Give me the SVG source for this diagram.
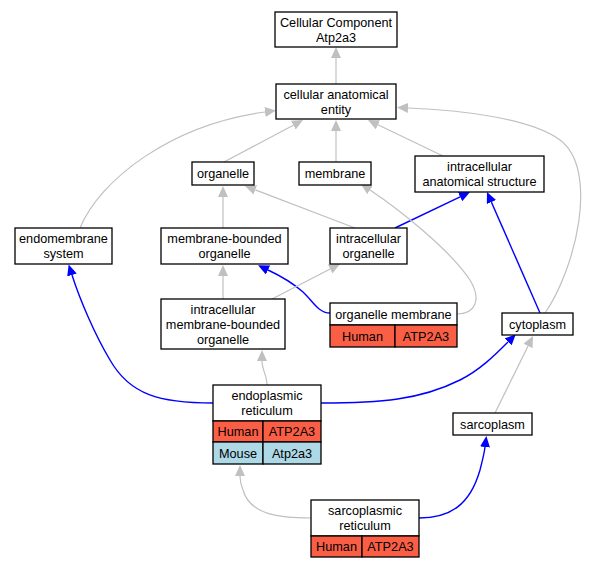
<svg xmlns="http://www.w3.org/2000/svg" width="589" height="568" viewBox="0 0 589 568">
<style>
.b{fill:#ffffff;stroke:#000000;stroke-width:1.3}
.h{fill:#fa5e45;stroke:#000000;stroke-width:1.3}
.m{fill:#add8e6;stroke:#000000;stroke-width:1.3}
text{font-family:"Liberation Sans",Arial,sans-serif;font-size:12.7px;fill:#000000;text-anchor:middle}
.g{fill:none;stroke:#c0c0c0;stroke-width:1.2}
.u{fill:none;stroke:#0000ff;stroke-width:1.4}
.g{marker-end:url(#ag)}
.u{marker-end:url(#au)}
</style>
<defs>
<marker id="ag" markerUnits="userSpaceOnUse" markerWidth="12" markerHeight="11" refX="0" refY="5" orient="auto"><path d="M0,0 L11,5 L0,10 z" fill="#c0c0c0"/></marker>
<marker id="au" markerUnits="userSpaceOnUse" markerWidth="12" markerHeight="11" refX="0" refY="5" orient="auto"><path d="M0,0 L11,5 L0,10 z" fill="#0000ff"/></marker>
</defs>
<rect width="589" height="568" fill="#ffffff"/>
<g id="edges">
<path class="g" d="M336,84 L336,58"/>
<path class="g" d="M224,162 L293.3,125.2"/>
<path class="g" d="M336,162 L336,131"/>
<path class="g" d="M443,156 L377.9,124.8"/>
<path class="g" d="M80,228 C100,180 170,125 265,112"/>
<path class="g" d="M545,313 C575,270 600,170 560,140 C530,118 460,110 408,108"/>
<path class="g" d="M223,228 L223,197"/>
<path class="g" d="M355,228 L255.3,189.9"/>
<path class="u" d="M395,228 L460.1,196.8"/>
<path class="g" d="M457,314 C475,314 482,300 470,280 C450,250 400,210 370,190"/>
<path class="u" d="M330,313 C318,313 312,300 303,292 C295,285 283,277 268,270"/>
<path class="g" d="M272,299 L330.2,269"/>
<path class="g" d="M223,299 L223,276"/>
<path class="g" d="M267,385 C267,375 262,370 262,361"/>
<path class="u" d="M213,403 C160,403 130,395 110,360 C95,335 80,300 72,275"/>
<path class="u" d="M321,403 C380,403 420,400 460,380 C480,370 495,355 508,342"/>
<path class="u" d="M540,313 L491.4,202.1"/>
<path class="g" d="M495,413 L528.1,345.9"/>
<path class="g" d="M311,518 C280,518 250,515 243,490 C241,485 240,480 240,476"/>
<path class="u" d="M419,518 C450,518 470,505 480,470 C482,462 484,455 485,447"/>
</g>
<g id="cc"><rect class="b" x="275" y="12" width="122" height="35"/><text x="336" y="26.5">Cellular Component</text><text x="336" y="41.5">Atp2a3</text></g>
<g id="cae"><rect class="b" x="276" y="84" width="120" height="35"/><text x="336" y="98.5">cellular anatomical</text><text x="336" y="113.5">entity</text></g>
<g id="organelle"><rect class="b" x="192" y="162" width="62" height="23"/><text x="223" y="178">organelle</text></g>
<g id="membrane"><rect class="b" x="299" y="162" width="72" height="23"/><text x="335" y="178">membrane</text></g>
<g id="ias"><rect class="b" x="415" y="156" width="129" height="36"/><text x="479.5" y="171">intracellular</text><text x="479.5" y="186">anatomical structure</text></g>
<g id="endomembrane"><rect class="b" x="15" y="228" width="97" height="36"/><text x="63.5" y="243">endomembrane</text><text x="63.5" y="258">system</text></g>
<g id="mbo"><rect class="b" x="161" y="228" width="127" height="36"/><text x="224.5" y="243">membrane-bounded</text><text x="224.5" y="258">organelle</text></g>
<g id="io"><rect class="b" x="330" y="228" width="77" height="36"/><text x="368.5" y="243">intracellular</text><text x="368.5" y="258">organelle</text></g>
<g id="imbo"><rect class="b" x="161" y="299" width="124" height="50"/><text x="223" y="314">intracellular</text><text x="223" y="329">membrane-bounded</text><text x="223" y="344">organelle</text></g>
<g id="om"><rect class="b" x="330" y="303" width="127" height="22"/><text x="393.5" y="318.5">organelle membrane</text><rect class="h" x="330" y="325" width="65" height="22"/><text x="362.5" y="340.5">Human</text><rect class="h" x="395" y="325" width="62" height="22"/><text x="426" y="340.5">ATP2A3</text></g>
<g id="cytoplasm"><rect class="b" x="502" y="313" width="71" height="22"/><text x="537.5" y="328.5">cytoplasm</text></g>
<g id="er"><rect class="b" x="213" y="385" width="108" height="36"/><text x="267" y="400">endoplasmic</text><text x="267" y="415">reticulum</text><rect class="h" x="213" y="421" width="50" height="21"/><text x="238" y="436">Human</text><rect class="h" x="263" y="421" width="58" height="21"/><text x="292" y="436">ATP2A3</text><rect class="m" x="213" y="442" width="50" height="22"/><text x="238" y="457.5">Mouse</text><rect class="m" x="263" y="442" width="58" height="22"/><text x="292" y="457.5">Atp2a3</text></g>
<g id="sarcoplasm"><rect class="b" x="453" y="413" width="79" height="22"/><text x="492.5" y="428.5">sarcoplasm</text></g>
<g id="sr"><rect class="b" x="311" y="500" width="108" height="36"/><text x="365" y="514.5">sarcoplasmic</text><text x="365" y="529.5">reticulum</text><rect class="h" x="311" y="536" width="51" height="21"/><text x="336.5" y="551">Human</text><rect class="h" x="362" y="536" width="57" height="21"/><text x="390.5" y="551">ATP2A3</text></g>
</svg>
